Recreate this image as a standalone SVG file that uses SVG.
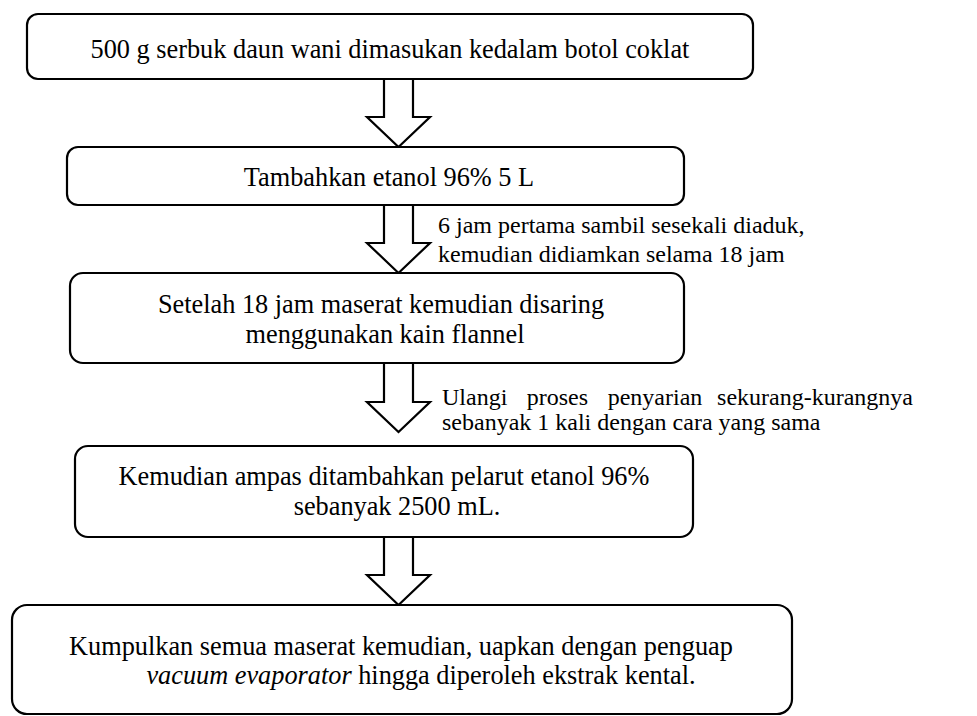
<svg xmlns="http://www.w3.org/2000/svg" width="977" height="716" viewBox="0 0 977 716">
<style>
.box{fill:#fff;stroke:#000;stroke-width:2.2}
.arr{fill:#fff;stroke:#000;stroke-width:2.2;stroke-linejoin:miter}
text{font-family:'Liberation Serif','Times New Roman',serif;fill:#000}
.t{font-size:26.3px;text-anchor:middle}
.l{font-size:24px}
</style>
<rect width="977" height="716" fill="#fff"/>
<g id="connectors">
<polygon class="arr" points="384,79 413,79 413,117 430,117 398.5,147 367,117 384,117"/>
<polygon class="arr" points="384,205 413,205 413,243 430,243 398.5,273 367,243 384,243"/>
<polygon class="arr" points="384,363 413,363 413,402 430,402 398.5,432 367,402 384,402"/>
<polygon class="arr" points="384,537 413,537 413,575 430,575 398.5,605 367,575 384,575"/>
<text class="l" x="438" y="233">6 jam pertama sambil sesekali diaduk,</text>
<text class="l" x="438" y="262">kemudian didiamkan selama 18 jam</text>
<text class="l" y="405"><tspan x="442">Ulangi</tspan><tspan x="526.7">proses</tspan><tspan x="607.7">penyarian</tspan><tspan x="913" text-anchor="end">sekurang-kurangnya</tspan></text>
<text class="l" x="442" y="430">sebanyak 1 kali dengan cara yang sama</text>
</g>
<g id="node1">
<rect class="box" x="27" y="14" width="726" height="65" rx="11"/>
<text class="t" x="390" y="58">500 g serbuk daun wani dimasukan kedalam botol coklat</text>
</g>
<g id="node2">
<rect class="box" x="67" y="147" width="617" height="58" rx="11"/>
<text class="t" x="389" y="186">Tambahkan etanol 96% 5 L</text>
</g>
<g id="node3">
<rect class="box" x="70" y="273" width="614" height="90" rx="13"/>
<text class="t" x="381" y="313">Setelah 18 jam maserat kemudian disaring</text>
<text class="t" x="385" y="343">menggunakan kain flannel</text>
</g>
<g id="node4">
<rect class="box" x="75" y="446" width="618" height="91" rx="13"/>
<text class="t" x="384" y="485">Kemudian ampas ditambahkan pelarut etanol 96%</text>
<text class="t" x="397" y="515">sebanyak 2500 mL.</text>
</g>
<g id="node5">
<rect class="box" x="12" y="605" width="780" height="109" rx="15"/>
<text class="t" x="401" y="655">Kumpulkan semua maserat kemudian, uapkan dengan penguap</text>
<text class="t" x="421" y="684"><tspan font-style="italic">vacuum evaporator</tspan> hingga diperoleh ekstrak kental.</text>
</g>
</svg>
